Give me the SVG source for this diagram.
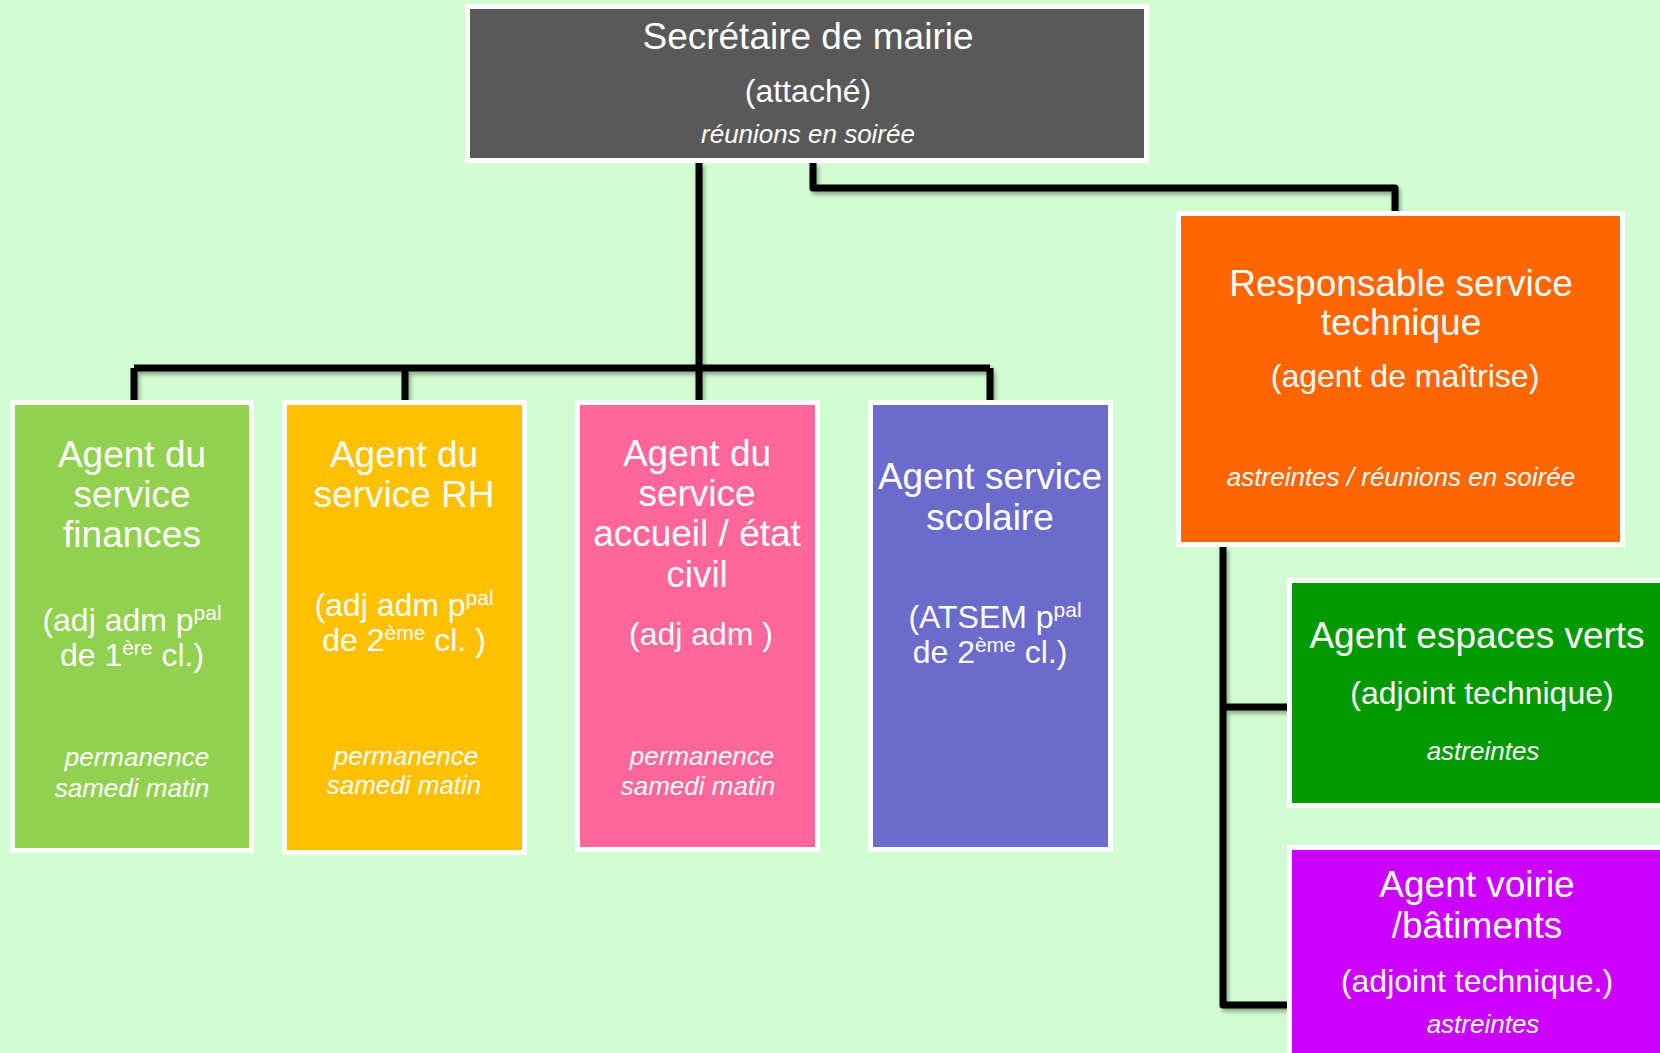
<svg xmlns="http://www.w3.org/2000/svg" width="1660" height="1053" viewBox="0 0 1660 1053">
<defs>
<style>
.box{stroke:#ffffff;stroke-width:5}
text{font-family:"Liberation Sans",Arial,sans-serif;fill:#ffffff;text-anchor:middle}
.t{font-size:37px}
.s{font-size:32px}
.i{font-size:26px;font-style:italic}
.sup{font-size:21px}
.conn{fill:none;stroke:#000000;stroke-width:7;stroke-linejoin:round;stroke-linecap:butt}
</style>
<filter id="sh" x="-10%" y="-10%" width="120%" height="120%">
<feDropShadow dx="2" dy="3" stdDeviation="2" flood-color="#000000" flood-opacity="0.35"/>
</filter>
</defs>
<rect x="0" y="0" width="1660" height="1053" fill="#d2fdd2"/>

<g id="connectors" filter="url(#sh)">
<path class="conn" d="M699 163 V368 M134 368 H990 M134 368 V401 M405 368 V401 M699 368 V401 M990 368 V401"/>
<path class="conn" d="M813 163 V188 H1395 V212"/>
<path class="conn" d="M1223 547 V1005 H1288 M1223 707 H1288"/>
</g>

<g id="secretaire">
<rect class="box" x="467.5" y="6.5" width="679" height="154" fill="#595959"/>
<text class="t" x="808" y="49">Secrétaire de mairie</text>
<text class="s" x="808" y="102">(attaché)</text>
<text class="i" x="808" y="143">réunions en soirée</text>
</g>

<g id="finances">
<rect class="box" x="12.5" y="402.5" width="239" height="448" fill="#92d050"/>
<text class="t" x="132" y="467">Agent du</text>
<text class="t" x="132" y="507">service</text>
<text class="t" x="132" y="547">finances</text>
<text class="s" x="132" y="631">(adj adm p<tspan class="sup" dy="-11">pal</tspan></text>
<text class="s" x="132" y="666">de 1<tspan class="sup" dy="-11">ère</tspan><tspan dy="11"> cl.)</tspan></text>
<text class="i" x="137" y="766">permanence</text>
<text class="i" x="132" y="797">samedi matin</text>
</g>

<g id="rh">
<rect class="box" x="284.5" y="402.5" width="240" height="450" fill="#ffc000"/>
<text class="t" x="404" y="467">Agent du</text>
<text class="t" x="404" y="507">service RH</text>
<text class="s" x="404" y="616">(adj adm p<tspan class="sup" dy="-11">pal</tspan></text>
<text class="s" x="404" y="651">de 2<tspan class="sup" dy="-11">ème</tspan><tspan dy="11"> cl. )</tspan></text>
<text class="i" x="406" y="765">permanence</text>
<text class="i" x="404" y="794">samedi matin</text>
</g>

<g id="accueil">
<rect class="box" x="577.5" y="402.5" width="240" height="447" fill="#ff6699"/>
<text class="t" x="697" y="466">Agent du</text>
<text class="t" x="697" y="506">service</text>
<text class="t" x="697" y="546">accueil / état</text>
<text class="t" x="697" y="587">civil</text>
<text class="s" x="701" y="645">(adj adm )</text>
<text class="i" x="702" y="765">permanence</text>
<text class="i" x="698" y="795">samedi matin</text>
</g>

<g id="scolaire">
<rect class="box" x="870.5" y="402.5" width="240" height="447" fill="#6b6bcc"/>
<text class="t" x="990" y="489">Agent service</text>
<text class="t" x="990" y="530">scolaire</text>
<text class="s" x="995" y="628">(ATSEM p<tspan class="sup" dy="-11">pal</tspan></text>
<text class="s" x="990" y="663">de 2<tspan class="sup" dy="-11">ème</tspan><tspan dy="11"> cl.)</tspan></text>
</g>

<g id="technique">
<rect class="box" x="1178.5" y="213.5" width="444" height="331" fill="#ff6600"/>
<text class="t" x="1401" y="296">Responsable service</text>
<text class="t" x="1401" y="335">technique</text>
<text class="s" x="1405" y="387">(agent de maîtrise)</text>
<text class="i" x="1401" y="486">astreintes / réunions en soirée</text>
</g>

<g id="espaces-verts">
<rect class="box" x="1289.5" y="580.5" width="400" height="225" fill="#009900"/>
<text class="t" x="1477" y="648">Agent espaces verts</text>
<text class="s" x="1482" y="704">(adjoint technique)</text>
<text class="i" x="1483" y="760">astreintes</text>
</g>

<g id="voirie">
<rect class="box" x="1289.5" y="847.5" width="400" height="250" fill="#cc00ff"/>
<text class="t" x="1477" y="897">Agent voirie</text>
<text class="t" x="1477" y="938">/bâtiments</text>
<text class="s" x="1477" y="992">(adjoint technique.)</text>
<text class="i" x="1483" y="1033">astreintes</text>
</g>
</svg>
